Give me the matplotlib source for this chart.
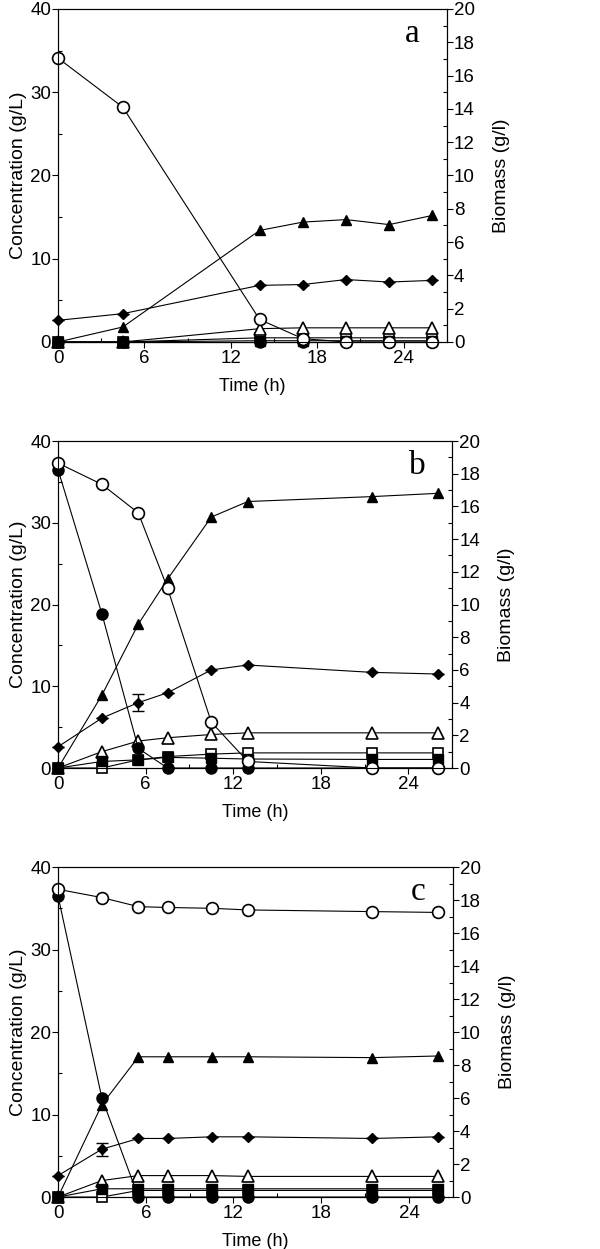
import numpy as np
import matplotlib
matplotlib.use('Agg')
import matplotlib.pyplot as plt
from matplotlib.ticker import MultipleLocator

plt.rcParams['font.family'] = ['Liberation Sans', 'DejaVu Sans']

# panel a
t_a = [0, 4.5, 14, 17, 20, 23, 26]
a_open_circ = [34.1, 28.2, 2.7, 0.4, 0, 0, 0]
a_fill_circ = [0, 0, 0, 0, 0, 0, 0]
a_fill_tri = [0, 1.8, 13.4, 14.4, 14.7, 14.1, 15.2]
a_open_tri = [0, 0, 1.6, 1.7, 1.7, 1.7, 1.7]
a_open_sq = [0, 0, 0.5, 0.5, 0.5, 0.5, 0.5]
a_fill_sq = [0, 0, 0.15, 0.15, 0.15, 0.15, 0.15]
a_biomass = [1.3, 1.7, 3.4, 3.45, 3.75, 3.6, 3.7]
a_biomass_err = [0, 0, 0, 0, 0, 0, 0]

# panel b
t_b = [0, 3, 5.5, 7.5, 10.5, 13, 21.5, 26]
b_open_circ = [37.3, 34.7, 31.2, 22.0, 5.6, 0.8, 0, 0]
b_fill_circ = [36.5, 18.9, 2.4, 0, 0, 0, 0, 0]
b_fill_tri = [0, 8.9, 17.6, 23.1, 30.7, 32.6, 33.2, 33.6]
b_open_tri = [0, 2.0, 3.3, 3.7, 4.1, 4.3, 4.3, 4.3]
b_open_sq = [0, 0, 1.0, 1.4, 1.7, 1.85, 1.85, 1.85]
b_fill_sq = [0, 0.8, 1.0, 1.3, 1.2, 1.1, 1.05, 1.05]
b_biomass = [1.3, 3.05, 4.0, 4.6, 6.0, 6.3, 5.85, 5.75]
b_biomass_err = [0, 0, 0.5, 0, 0, 0, 0, 0]

# panel c
t_c = [0, 3, 5.5, 7.5, 10.5, 13, 21.5, 26]
c_open_circ = [37.3, 36.3, 35.2, 35.1, 35.0, 34.8, 34.6, 34.5]
c_fill_circ = [36.5, 12.0, 0, 0, 0, 0, 0, 0]
c_fill_tri = [0, 11.2, 17.0, 17.0, 17.0, 17.0, 16.9, 17.1]
c_open_tri = [0, 2.0, 2.6, 2.6, 2.6, 2.5, 2.5, 2.5]
c_open_sq = [0, 0, 0.8, 0.8, 0.8, 0.8, 0.8, 0.8]
c_fill_sq = [0, 1.0, 1.0, 1.0, 1.0, 1.0, 1.0, 1.0]
c_biomass = [1.3, 2.9, 3.55, 3.55, 3.65, 3.65, 3.55, 3.65]
c_biomass_err = [0, 0.4, 0, 0, 0, 0, 0, 0]

panels = [
    ('a', t_a, a_open_circ, a_fill_circ, a_fill_tri, a_open_tri, a_open_sq, a_fill_sq, a_biomass, a_biomass_err),
    ('b', t_b, b_open_circ, b_fill_circ, b_fill_tri, b_open_tri, b_open_sq, b_fill_sq, b_biomass, b_biomass_err),
    ('c', t_c, c_open_circ, c_fill_circ, c_fill_tri, c_open_tri, c_open_sq, c_fill_sq, c_biomass, c_biomass_err),
]
rects = [
    [0.0967, 0.7262, 0.648, 0.2666],
    [0.0967, 0.3851, 0.657, 0.2618],
    [0.0967, 0.0416, 0.658, 0.2642],
]

fig = plt.figure(figsize=(6, 12.49), dpi=100)
lw = 0.8
for (lab, t, oc, fc, ftr, otr, osq, fsq, bio, err), r in zip(panels, rects):
    ax = fig.add_axes(r)
    kw = dict(color='black', lw=lw, clip_on=False)
    ax.plot(t, osq, marker='s', ms=7, mfc='white', mec='black', mew=1.2, zorder=3, **kw)
    ax.plot(t, otr, marker='^', ms=8, mfc='white', mec='black', mew=1.2, zorder=3, **kw)
    ax.plot(t, fsq, marker='s', ms=7, mfc='black', mec='black', zorder=4, **kw)
    ax.plot(t, fc, marker='o', ms=8, mfc='black', mec='black', zorder=4, **kw)
    ax.plot(t, ftr, marker='^', ms=7.5, mfc='black', mec='black', zorder=5, **kw)
    ax.plot(t, oc, marker='o', ms=8.5, mfc='white', mec='black', mew=1.2, zorder=6, **kw)
    ax.set_xlim(0, 27)
    ax.set_ylim(0, 40)
    ax.xaxis.set_major_locator(MultipleLocator(6))
    ax.xaxis.set_minor_locator(MultipleLocator(3))
    ax.yaxis.set_major_locator(MultipleLocator(10))
    ax.yaxis.set_minor_locator(MultipleLocator(5))
    ax.tick_params(which='major', direction='out', length=4, width=0.8, labelsize=13.5)
    ax.tick_params(which='minor', direction='in', length=3, width=0.8)
    ax.tick_params(axis='x', pad=2)
    ax.tick_params(axis='y', pad=1)
    ax.set_xlabel('Time (h)', fontsize=13, labelpad=8)
    ax.set_ylabel('Concentration (g/L)', fontsize=14, labelpad=2)
    for s in ax.spines.values():
        s.set_linewidth(0.8)
    ax.text(24.6, 37, lab, fontsize=24, family=['Liberation Serif', 'DejaVu Serif'],
            ha='center', va='center')

    ax2 = ax.twinx()
    ax2.errorbar(t, bio, yerr=err, fmt='-D', color='black', ms=5.5, lw=lw,
                 elinewidth=1.0, capsize=4.5, capthick=1.0, clip_on=False, zorder=5)
    ax2.set_ylim(0, 20)
    ax2.yaxis.set_major_locator(MultipleLocator(2))
    ax2.yaxis.set_minor_locator(MultipleLocator(1))
    ax2.tick_params(which='major', direction='out', length=4, width=0.8, labelsize=13.5, pad=1)
    ax2.tick_params(which='minor', direction='in', length=3, width=0.8)
    ax2.set_ylabel('Biomass (g/l)', fontsize=14, labelpad=13)

fig.savefig('out.png', dpi=100)
